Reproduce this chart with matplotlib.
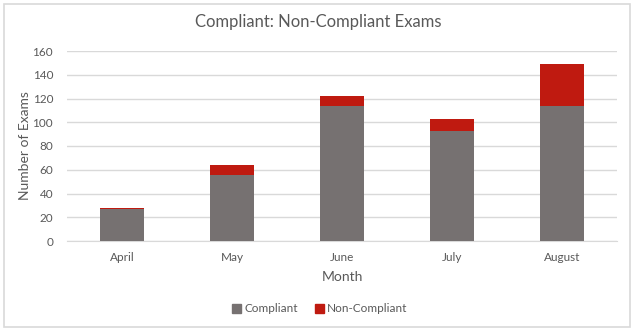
import matplotlib
matplotlib.use('Agg')
import matplotlib.pyplot as plt
from matplotlib.patches import Rectangle, Patch
import numpy as np

plt.rcParams['font.family'] = ['Lato', 'DejaVu Sans']

# --- Datos ---
meses          = ['April', 'May', 'June', 'July', 'August']
compliant      = [27, 56, 114, 93, 114]
non_compliant  = [1, 8, 8, 10, 35]

GRIS   = '#767171'
ROJO   = '#BF1A10'
TEXTO  = '#595959'

fig = plt.figure(figsize=(6.37, 3.31), dpi=100)
ax = fig.add_axes([67/637, 1 - 241/331, 550/637, 190/331])

x = np.arange(len(meses))
ax.bar(x, compliant, width=0.4, color=GRIS, zorder=3)
ax.bar(x, non_compliant, width=0.4, bottom=compliant, color=ROJO, zorder=3)

ax.set_xlim(-0.5, len(meses) - 0.5)
ax.set_ylim(0, 160)
ax.set_yticks(range(0, 161, 20))
ax.set_xticks(x)
ax.set_xticklabels(meses)
ax.yaxis.grid(True, color='#D9D9D9', linewidth=1, zorder=0)
for s in ['top', 'right', 'left']:
    ax.spines[s].set_visible(False)
ax.spines['bottom'].set_color('#D9D9D9')
ax.tick_params(axis='both', length=0, colors=TEXTO, labelsize=8.5)
ax.tick_params(axis='x', pad=8)
ax.tick_params(axis='y', pad=10)

ax.set_xlabel('Month', color=TEXTO, fontsize=10, labelpad=6)
fig.text(25/637, 1 - 146/331, 'Number of Exams', rotation=90, ha='center', va='center',
         color=TEXTO, fontsize=10)
fig.text(318/637, 1 - 22/331, 'Compliant: Non-Compliant Exams', ha='center', va='center',
         color=TEXTO, fontsize=12)

handles = [Patch(color=GRIS, label='Compliant'), Patch(color=ROJO, label='Non-Compliant')]
fig.legend(handles=handles, loc='center', bbox_to_anchor=(320/637, 1 - 309/331), ncol=2,
           frameon=False, fontsize=8.5, labelcolor=TEXTO, handlelength=0.7, handleheight=0.7,
           handletextpad=0.3, columnspacing=1.5)

# marco del grafico
fig.patches.append(Rectangle((4/637, 4/331), 626/637, 323/331, transform=fig.transFigure,
                             fill=False, edgecolor='#D9D9D9', linewidth=1.2))

fig.savefig('out.png', dpi=100, facecolor='white')
